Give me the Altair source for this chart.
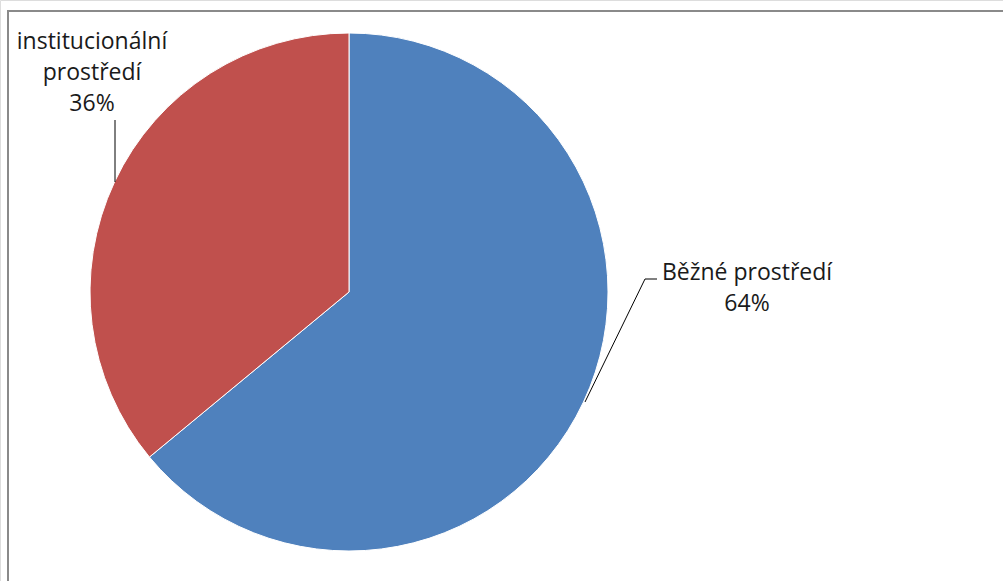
import altair as alt
import pandas as pd

# Data
categories = ["Běžné prostředí", "institucionální prostředí"]
shares = [64, 36]
colors = ["#4F81BD", "#C0504D"]
label_lines = [["Běžné prostředí", "64%"], ["institucionální", "prostředí", "36%"]]

# Layout (pixels)
W, H = 1003, 581
CX, CY, R = 349, 292, 259
label_anchor = [(747, 273), (92, 42)]
line_h = 31
leaders = [
    [(657, 279), (645, 279), (585, 402)],
    [(115, 120), (115, 182)],
]

pie_df = pd.DataFrame({"category": categories, "value": shares, "idx": list(range(len(categories)))})

rows = []
for i, lines in enumerate(label_lines):
    ax, ay = label_anchor[i]
    for j, t in enumerate(lines):
        rows.append({"t": t, "x": ax, "y": ay + j * line_h})
text_df = pd.DataFrame(rows)

lrows = []
for i, pts in enumerate(leaders):
    for k, (px, py) in enumerate(pts):
        lrows.append({"g": i, "k": k, "x": px, "y": py})
line_df = pd.DataFrame(lrows)

xs = alt.Scale(domain=[0, W], range=[0, W])
ys = alt.Scale(domain=[0, H], range=[0, H])

frame = alt.Chart(pie_df).mark_rect(fill=None, stroke="#8a8a8a", strokeWidth=2).encode(
    x=alt.value(8), x2=alt.value(W + 10), y=alt.value(11), y2=alt.value(H + 10)
)

pie = alt.Chart(pie_df).mark_arc(radius=R, stroke="white", strokeWidth=1).encode(
    theta=alt.Theta("value:Q", stack=True),
    color=alt.Color("category:N", scale=alt.Scale(domain=categories, range=colors), legend=None),
    order=alt.Order("idx:Q"),
    x=alt.value(CX),
    y=alt.value(CY),
)

lines_layer = alt.Chart(line_df).mark_line(color="#000000", strokeWidth=1).encode(
    x=alt.X("x:Q", scale=xs, axis=None),
    y=alt.Y("y:Q", scale=ys, axis=None),
    detail="g:N",
    order="k:Q",
)

text_layer = alt.Chart(text_df).mark_text(
    font="Open Sans", fontSize=23, color="#1a1a1a", align="center", baseline="middle"
).encode(
    x=alt.X("x:Q", scale=xs, axis=None),
    y=alt.Y("y:Q", scale=ys, axis=None),
    text="t:N",
)

chart = alt.layer(frame, pie, lines_layer, text_layer).properties(
    width=W, height=H, padding=0, autosize=alt.AutoSizeParams(type="none")
).configure_view(stroke=None).configure(background="white")

chart.save("out.html", embed_options={"renderer": "svg", "actions": False})
